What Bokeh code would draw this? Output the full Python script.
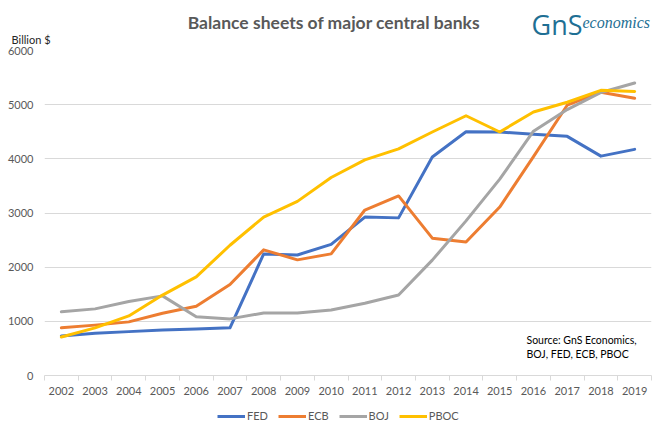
from bokeh.plotting import figure
from bokeh.layouts import column
from bokeh.models import (Range1d, FixedTicker, Label, Legend, LegendItem, ColumnDataSource)
from bokeh.embed import file_html
from bokeh.resources import INLINE

years = list(range(2002, 2020))
fed = [730, 780, 810, 840, 860, 880, 2245, 2225, 2420, 2925, 2910, 4035, 4500, 4495, 4455, 4415, 4050, 4175]
ecb = [880, 930, 990, 1150, 1280, 1680, 2320, 2135, 2245, 3055, 3315, 2535, 2465, 3110, 4040, 4990, 5230, 5120]
boj = [1175, 1230, 1365, 1470, 1085, 1045, 1155, 1155, 1210, 1335, 1485, 2130, 2855, 3625, 4510, 4910, 5225, 5400]
pboc = [710, 880, 1100, 1485, 1820, 2405, 2925, 3215, 3655, 3980, 4185, 4495, 4795, 4495, 4865, 5045, 5265, 5245]
series_names = ["FED", "ECB", "BOJ", "PBOC"]
series_colors = ["#4472C4", "#ED7D31", "#A5A5A5", "#FFC000"]
y_ticks = [0, 1000, 2000, 3000, 4000, 5000, 6000]

FONT = "Lato"
GREY = "#595959"
W = 665
TOTAL_H = 437
HEAD_H = 45          # header: page y 0..45
FRAME_TOP, FRAME_BOT = 50, 375
FRAME_L, FRAME_R = 44, 651
FOOT_TOP = 402
FOOT_H = TOTAL_H - FOOT_TOP


def bare(height):
    f = figure(width=W, height=height, output_backend="svg", toolbar_location=None,
               x_axis_type=None, y_axis_type=None, frame_align=False,
               min_border_left=0, min_border_right=0, min_border_top=0, min_border_bottom=0)
    f.outline_line_color = None
    f.grid.visible = False
    f.background_fill_color = "white"
    f.border_fill_color = "white"
    return f


def lab(fig, x, y, text, size, color, style="normal", font=FONT, align="left", baseline="middle"):
    fig.add_layout(Label(x=x, y=y, x_units="screen", y_units="screen", text=text,
                         text_font=font, text_font_size=size, text_color=color,
                         text_font_style=style, text_align=align, text_baseline=baseline))


# ---------- header (title, logo, unit label) ----------
head = bare(HEAD_H)
lab(head, 333.5, HEAD_H - 22, "Balance sheets of major central banks", "17.5px", GREY,
    style="bold", align="center")
lab(head, 531, HEAD_H - 24, "GnS", "27px", "#1E6F94", font="Open Sans")
lab(head, 582, HEAD_H - 22, "economics", "16px", "#1E6F94", style="italic",
    font="Liberation Serif")
lab(head, 11, HEAD_H - 39, "Billion $", "11px", "#262626")

# ---------- main chart ----------
p = figure(frame_width=FRAME_R - FRAME_L, frame_height=FRAME_BOT - FRAME_TOP,
           output_backend="svg", toolbar_location=None, frame_align=False,
           x_range=Range1d(years[0] - 0.5, years[-1] + 0.5), y_range=Range1d(0, 6000),
           min_border_left=FRAME_L, min_border_right=W - FRAME_R,
           min_border_top=FRAME_TOP - HEAD_H, min_border_bottom=FOOT_TOP - FRAME_BOT)
p.outline_line_color = None
p.background_fill_color = "white"
p.border_fill_color = "white"

xa = p.xaxis[0]
xa.ticker = FixedTicker(ticks=years, minor_ticks=[y - 0.5 for y in years] + [years[-1] + 0.5])
xa.major_tick_line_color = None
xa.major_tick_out = 0
xa.major_tick_in = 0
xa.minor_tick_line_color = "#D9D9D9"
xa.minor_tick_out = 5
xa.minor_tick_in = 0
xa.axis_line_color = "#D9D9D9"
xa.major_label_text_font = FONT
xa.major_label_text_font_size = "11px"
xa.major_label_text_color = GREY
xa.major_label_standoff = 6

ya = p.yaxis[0]
ya.ticker = FixedTicker(ticks=y_ticks)
ya.axis_line_color = None
ya.major_tick_line_color = None
ya.minor_tick_line_color = None
ya.major_tick_out = 0
ya.major_label_text_font = FONT
ya.major_label_text_font_size = "11px"
ya.major_label_text_color = GREY
ya.major_label_standoff = 11

p.xgrid.grid_line_color = None
p.ygrid.grid_line_color = "#D9D9D9"
p.ygrid.ticker = FixedTicker(ticks=y_ticks)

all_series = [fed, ecb, boj, pboc]
for name, vals, col in zip(series_names, all_series, series_colors):
    src = ColumnDataSource(dict(x=years, y=vals))
    p.line("x", "y", source=src, line_color=col, line_width=3,
           line_join="round", line_cap="round")

lab(p, 526 - FRAME_L, FRAME_BOT - 339, "Source: GnS Economics,", "10.5px", "#000000")
lab(p, 526 - FRAME_L, FRAME_BOT - 353, "BOJ, FED, ECB, PBOC", "10.5px", "#000000")

# ---------- footer legend ----------
foot = bare(FOOT_H)
foot_r = []
for name, vals, col in zip(series_names, all_series, series_colors):
    src = ColumnDataSource(dict(x=years, y=vals))
    foot_r.append(foot.line("x", "y", source=src, line_color=col, line_width=3, visible=False))

legend = Legend(items=[LegendItem(label=n, renderers=[r]) for n, r in zip(series_names, foot_r)],
                location=(217, TOTAL_H - 417 - 5), orientation="horizontal",
                glyph_width=28, glyph_height=10, label_height=10, label_width=20,
                label_standoff=2, padding=0, margin=0, spacing=10,
                border_line_color=None, background_fill_alpha=0, inactive_fill_alpha=0,
                label_text_font=FONT, label_text_font_size="11px", label_text_color=GREY)
foot.add_layout(legend, "center")

layout = column(head, p, foot, spacing=0)
open("out.html", "w").write(file_html(layout, INLINE))
